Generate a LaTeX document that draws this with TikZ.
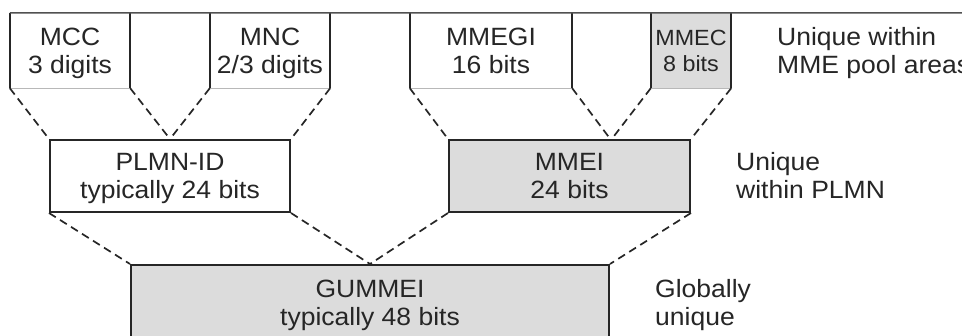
\documentclass[tikz,border=0pt]{standalone}
\usepackage{fontspec}
\setmainfont{Liberation Sans}[FakeStretch=1.06]
\definecolor{boxfill}{HTML}{DCDCDC}
\definecolor{edge}{HTML}{262626}
\definecolor{softedge}{HTML}{B8B8B8}
\newcommand\twol[2]{\raisebox{0pt}[18pt][0pt]{#1}\\\raisebox{0pt}[0pt][0pt]{#2}}
\begin{document}
\begin{tikzpicture}[x=1pt,y=-1pt,
  txt/.style={font=\fontsize{25}{28}\selectfont, text=edge, inner sep=0pt},
  topbox/.style={txt, rectangle, minimum height=75pt, align=center},
  midbox/.style={txt, rectangle, draw=edge, line width=2pt, align=center},
  side/.style={draw=edge, line width=2pt},
  soft/.style={draw=softedge, line width=1pt},
  dashline/.style={draw=edge, line width=1.7pt, dash pattern=on 8pt off 5pt},
  note/.style={txt, anchor=west, align=left}]
\useasboundingbox (0,0) rectangle (962,336);
\fill[white] (0,0) rectangle (962,336);
% top row
\node[topbox, minimum width=120pt] (mcc) at (70,50.5) {\twol{MCC}{3 digits}};
\node[topbox, minimum width=120pt] (mnc) at (270,50.5) {\twol{MNC}{2/3 digits}};
\node[topbox, minimum width=162pt] (mmegi) at (491,50.5) {\twol{MMEGI}{16 bits}};
\node[topbox, minimum width=80pt, fill=boxfill, font=\fontsize{22}{26}\selectfont] (mmec) at (691,50.5) {\raisebox{0pt}[16pt][0pt]{MMEC}\\\raisebox{0pt}[0pt][0pt]{8 bits}};
\foreach \n in {mcc,mnc,mmegi,mmec}{
  \draw[soft] (\n.south west) -- (\n.south east);
  \draw[side] (\n.north west) -- (\n.south west);
  \draw[side] (\n.north east) -- (\n.south east);
}
\draw[draw=edge!80, line width=1.5pt] (mcc.north west) -- (962,13);
% middle row
\node[midbox, minimum width=240pt, minimum height=72pt] (plmn) at (170,176) {\twol{PLMN-ID}{typically 24 bits}};
\node[midbox, minimum width=241pt, minimum height=72pt, fill=boxfill] (mmei) at (569.5,176) {\twol{MMEI}{24 bits}};
% bottom row
\node[midbox, minimum width=478pt, minimum height=76pt, fill=boxfill] (gummei) at (370,303) {\twol{GUMMEI}{typically 48 bits}};
% convergence points
\coordinate (c1) at (plmn.north);
\coordinate (c2) at (611,140);
\coordinate (c3) at (gummei.north);
% dashed connectors
\draw[dashline] (mcc.south west) -- (plmn.north west);
\draw[dashline] (mcc.south east) -- (c1);
\draw[dashline] (mnc.south west) -- (c1);
\draw[dashline] (mnc.south east) -- (plmn.north east);
\draw[dashline] (mmegi.south west) -- (mmei.north west);
\draw[dashline] (mmegi.south east) -- (c2);
\draw[dashline] (mmec.south west) -- (c2);
\draw[dashline] (mmec.south east) -- (mmei.north east);
\draw[dashline] (plmn.south west) -- (gummei.north west);
\draw[dashline] (plmn.south east) -- (c3);
\draw[dashline] (mmei.south west) -- (c3);
\draw[dashline] (mmei.south east) -- (gummei.north east);
% notes
\node[note] (n1) at (777,50.5) {\twol{Unique within}{MME pool areas}};
\node[note] (n2) at (736,176) {\twol{Unique}{within PLMN}};
\node[note] (n3) at (655,303) {\twol{Globally}{unique}};
\end{tikzpicture}
\end{document}
